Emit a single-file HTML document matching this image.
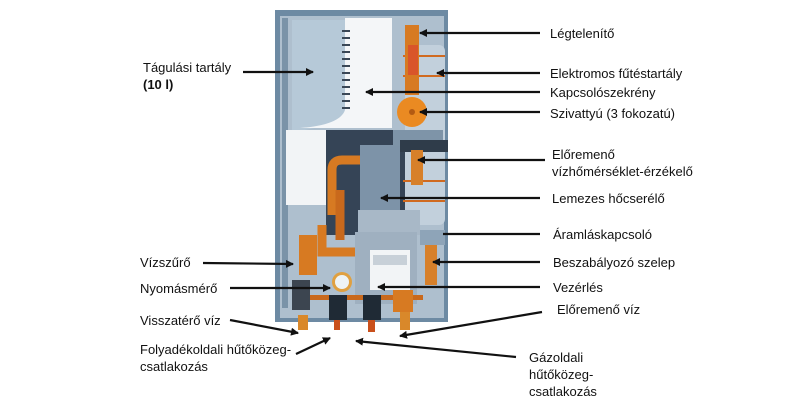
<!DOCTYPE html>
<html><head><meta charset="utf-8"><style>
html,body{margin:0;padding:0;background:#fff;width:800px;height:400px;overflow:hidden}
svg{display:block}
text{font-family:"Liberation Sans",Arial,sans-serif;font-size:13px;fill:#111}
</style></head><body>
<svg width="800" height="400" viewBox="0 0 800 400" xmlns="http://www.w3.org/2000/svg">
<defs>
<marker id="a" markerWidth="8" markerHeight="8" refX="7" refY="4" orient="auto" markerUnits="userSpaceOnUse"><path d="M0,0 L8,4 L0,8 Z" fill="#111"/></marker>
</defs>
<rect x="275" y="10" width="173" height="312" fill="#6d8aa3"/>
<rect x="280" y="16" width="164" height="302" fill="#aebfce"/>
<rect x="282" y="18" width="6" height="290" fill="#7a93a8"/>
<path d="M292,20 H345 V120 Q320,128 292,132 Z" fill="#b6c9d8"/>
<path d="M345,18 H392 V128 H300 Q340,125 345,110 Z" fill="#f4f6f8"/>
<g fill="#3a4756"><rect x="342" y="30" width="8" height="2"/><rect x="342" y="37" width="8" height="2"/><rect x="342" y="44" width="8" height="2"/><rect x="342" y="51" width="8" height="2"/><rect x="342" y="58" width="8" height="2"/><rect x="342" y="65" width="8" height="2"/><rect x="342" y="72" width="8" height="2"/><rect x="342" y="79" width="8" height="2"/><rect x="342" y="86" width="8" height="2"/><rect x="342" y="93" width="8" height="2"/><rect x="342" y="100" width="8" height="2"/><rect x="342" y="107" width="8" height="2"/></g>
<rect x="286" y="130" width="40" height="75" fill="#f2f4f6"/>
<rect x="326" y="130" width="80" height="105" fill="#354456"/>
<rect x="360" y="145" width="40" height="85" fill="#7d93a8"/>
<rect x="405" y="45" width="40" height="180" rx="6" fill="#c2d0dc"/>
<g fill="#d06a20"><rect x="403" y="55" width="42" height="2"/><rect x="403" y="75" width="42" height="2"/><rect x="403" y="180" width="42" height="2"/><rect x="403" y="200" width="42" height="2"/></g>
<rect x="393" y="130" width="50" height="16" fill="#7e94a8"/>
<rect x="400" y="140" width="48" height="12" fill="#2f3c4a"/>
<rect x="405" y="25" width="14" height="70" fill="#d77a22"/>
<rect x="408" y="45" width="10" height="30" fill="#d9552a"/>
<circle cx="412" cy="112" r="15" fill="#ea8a22"/>
<circle cx="412" cy="112" r="3" fill="#b35a12"/>
<rect x="411" y="150" width="12" height="35" fill="#d7802a"/>
<path d="M332,215 V170 Q332,160 342,160 H360" stroke="#d77a22" stroke-width="9" fill="none"/>
<path d="M340,240 V190" stroke="#c9691c" stroke-width="9" fill="none"/>
<path d="M322,225 V252 H358" stroke="#d77a22" stroke-width="9" fill="none"/>
<rect x="299" y="235" width="18" height="40" fill="#d77a22"/>
<rect x="358" y="210" width="62" height="25" fill="#a8b8c7"/>
<rect x="355" y="232" width="62" height="72" fill="#9fb0c0"/>
<rect x="370" y="250" width="40" height="40" fill="#f2f4f6"/>
<rect x="373" y="255" width="34" height="10" fill="#c8d0d8"/>
<rect x="420" y="230" width="25" height="15" fill="#8ea4b8"/>
<rect x="425" y="245" width="12" height="40" fill="#d7802a"/>
<circle cx="342" cy="282" r="10" fill="#e0a040"/>
<circle cx="342" cy="282" r="7" fill="#eef3f5"/>
<rect x="293" y="295" width="130" height="5" fill="#c9691c"/>
<rect x="292" y="280" width="18" height="30" fill="#3c4550"/>
<rect x="329" y="295" width="18" height="25" fill="#1f2a35"/>
<rect x="363" y="295" width="18" height="25" fill="#1f2a35"/>
<rect x="393" y="290" width="20" height="22" fill="#d77a22"/>
<rect x="298" y="315" width="10" height="15" fill="#d9882a"/>
<rect x="334" y="320" width="6" height="10" fill="#c9501c"/>
<rect x="368" y="320" width="7" height="12" fill="#c9501c"/>
<rect x="400" y="312" width="10" height="18" fill="#d9882a"/>
<g stroke="#111" stroke-width="2.2" fill="none" marker-end="url(#a)">
<line x1="243" y1="72" x2="313" y2="72"/>
<line x1="540" y1="33" x2="420" y2="33"/>
<line x1="540" y1="73" x2="437" y2="73"/>
<line x1="540" y1="92" x2="366" y2="92"/>
<line x1="540" y1="112" x2="420" y2="112"/>
<line x1="545" y1="160" x2="418" y2="160"/>
<line x1="540" y1="198" x2="381" y2="198"/>
<line x1="540" y1="262" x2="433" y2="262"/>
<line x1="540" y1="287" x2="378" y2="287"/>
<line x1="542" y1="312" x2="400" y2="336"/>
<line x1="516" y1="357" x2="356" y2="341"/>
<line x1="203" y1="263" x2="293" y2="264"/>
<line x1="230" y1="288" x2="330" y2="288"/>
<line x1="230" y1="320" x2="298" y2="333"/>
<line x1="296" y1="354" x2="330" y2="338"/>
</g>
<line x1="540" y1="234" x2="443" y2="234" stroke="#111" stroke-width="2.2"/>
<text x="143" y="72">Tágulási tartály</text>
<text x="143" y="89" font-weight="bold">(10 l)</text>
<text x="550" y="38">Légtelenítő</text>
<text x="550" y="78">Elektromos fűtéstartály</text>
<text x="550" y="97">Kapcsolószekrény</text>
<text x="550" y="118">Szivattyú (3 fokozatú)</text>
<text x="552" y="159">Előremenő</text>
<text x="552" y="176">vízhőmérséklet-érzékelő</text>
<text x="552" y="203">Lemezes hőcserélő</text>
<text x="553" y="239">Áramláskapcsoló</text>
<text x="553" y="267">Beszabályozó szelep</text>
<text x="553" y="292">Vezérlés</text>
<text x="557" y="314">Előremenő víz</text>
<text x="140" y="267">Vízszűrő</text>
<text x="140" y="293">Nyomásmérő</text>
<text x="140" y="325">Visszatérő víz</text>
<text x="140" y="354">Folyadékoldali hűtőközeg-</text>
<text x="140" y="371">csatlakozás</text>
<text x="529" y="362">Gázoldali</text>
<text x="529" y="379">hűtőközeg-</text>
<text x="529" y="396">csatlakozás</text>
</svg>
</body></html>
